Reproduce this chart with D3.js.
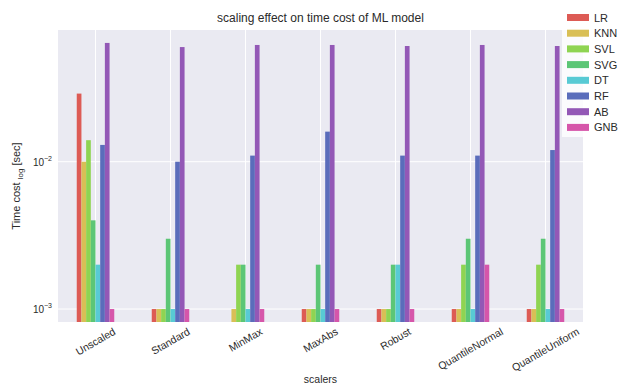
<!DOCTYPE html>
<html><head><meta charset="utf-8">
<script src="https://cdn.jsdelivr.net/npm/d3@7"></script>
<style>body{margin:0;background:#fff}svg{display:block;font-family:"Liberation Sans",Arial,sans-serif}</style>
</head><body><svg id="c" width="620" height="385"></svg>
<script>
const categories = ["Unscaled","Standard","MinMax","MaxAbs","Robust","QuantileNormal","QuantileUniform"];
const models = ["LR","KNN","SVL","SVG","DT","RF","AB","GNB"];
const colors = ["#dd5b55","#d9bf56","#8fd452","#5cc676","#58cad4","#5a6dbb","#9358b6","#d656aa"];
const LR  = [0.029,0.001,0,    0.001,0.001,0.001,0.001];
const KNN = [0.010,0.001,0.001,0.001,0.001,0.001,0.001];
const SVL = [0.014,0.001,0.002,0.001,0.001,0.002,0.002];
const SVG = [0.004,0.003,0.002,0.002,0.002,0.003,0.003];
const DT  = [0.002,0.001,0.001,0.001,0.002,0.001,0.001];
const RF  = [0.013,0.010,0.011,0.016,0.011,0.011,0.012];
const AB  = [0.064,0.060,0.062,0.062,0.061,0.062,0.061];
const GNB = [0.001,0.001,0.001,0.001,0.001,0.002,0.001];
const series = [LR,KNN,SVL,SVG,DT,RF,AB,GNB];
const yTicks = [0.001, 0.01];
const yTickExp = ["−3","−2"];

const svg = d3.select("#c");
const L = 58, R = 583, T = 30, B = 322;
const textCol = "#2a2a2a";

const x = d3.scaleBand().domain(categories).range([L, R]).paddingInner(0).paddingOuter(0);
const xi = d3.scaleBand().domain(models).range([0, x.bandwidth()*0.5]);
const y = d3.scaleLog().domain([Math.pow(10,-3.088), Math.pow(10,-1.106)]).range([B, T]);

svg.append("rect").attr("x",L).attr("y",T).attr("width",R-L).attr("height",B-T).attr("fill","#eaeaf2");

// grid
svg.append("g").selectAll("line").data(categories).join("line")
  .attr("x1",d=>x(d)+x.bandwidth()/2).attr("x2",d=>x(d)+x.bandwidth()/2)
  .attr("y1",T).attr("y2",B).attr("stroke","#fff").attr("stroke-width",1);
svg.append("g").selectAll("line").data(yTicks).join("line")
  .attr("x1",L).attr("x2",R).attr("y1",d=>y(d)).attr("y2",d=>y(d)).attr("stroke","#fff").attr("stroke-width",1);

// bars
const g = svg.append("g");
series.forEach((s,si)=>{
  g.append("g").selectAll("rect").data(s.map((v,i)=>({v,c:categories[i]})).filter(d=>d.v>0)).join("rect")
    .attr("x",d=>x(d.c)+x.bandwidth()*0.25+xi(models[si]))
    .attr("width",xi.bandwidth())
    .attr("y",d=>y(d.v))
    .attr("height",d=>B-y(d.v))
    .attr("fill",colors[si]);
});

// y tick labels
const yl = svg.append("g");
yTicks.forEach((t,i)=>{
  const tx = yl.append("text").attr("x",L-6).attr("y",y(t)+4).attr("text-anchor","end")
    .attr("font-size",10).attr("fill",textCol);
  tx.append("tspan").text("10");
  tx.append("tspan").attr("dy",-5).attr("font-size",7).text(yTickExp[i]);
});

// x tick labels rotated 30 deg, centered
categories.forEach(c=>{
  const cx = x(c)+x.bandwidth()/2;
  const t = svg.append("text").attr("font-size",10.5).attr("fill",textCol).attr("text-anchor","middle").text(c);
  const w = t.node().getComputedTextLength();
  const h = 10.5;
  const bh = w*0.5 + h*Math.cos(Math.PI/6);
  const cy = B + 4 + bh/2;
  t.attr("transform",`translate(${cx},${cy}) rotate(-30)`).attr("dy","0.35em");
});

// axis titles
svg.append("text").attr("x",(L+R)/2).attr("y",383).attr("text-anchor","middle").attr("font-size",10.5).attr("fill",textCol).text("scalers");
const ylab = svg.append("text").attr("transform",`translate(20,186) rotate(-90)`).attr("text-anchor","middle").attr("font-size",11).attr("fill",textCol);
ylab.append("tspan").text("Time cost ");
ylab.append("tspan").attr("font-size",8).attr("dy",3).text("log");
ylab.append("tspan").attr("dy",-3).text(" [sec]");

// title
svg.append("text").attr("x",(L+R)/2).attr("y",22).attr("text-anchor","middle").attr("font-size",12).attr("fill",textCol).text("scaling effect on time cost of ML model");

// legend
svg.append("rect").attr("x",562).attr("y",6).attr("width",70).attr("height",131).attr("fill","#fff").attr("fill-opacity",0.8);
const lg = svg.append("g");
models.forEach((m,i)=>{
  const yy = 17.5 + i*15.7;
  lg.append("rect").attr("x",567).attr("y",yy-3.5).attr("width",22).attr("height",7).attr("fill",colors[i]);
  lg.append("text").attr("x",594).attr("y",yy+4).attr("font-size",11).attr("fill",textCol).text(m);
});
</script></body></html>
